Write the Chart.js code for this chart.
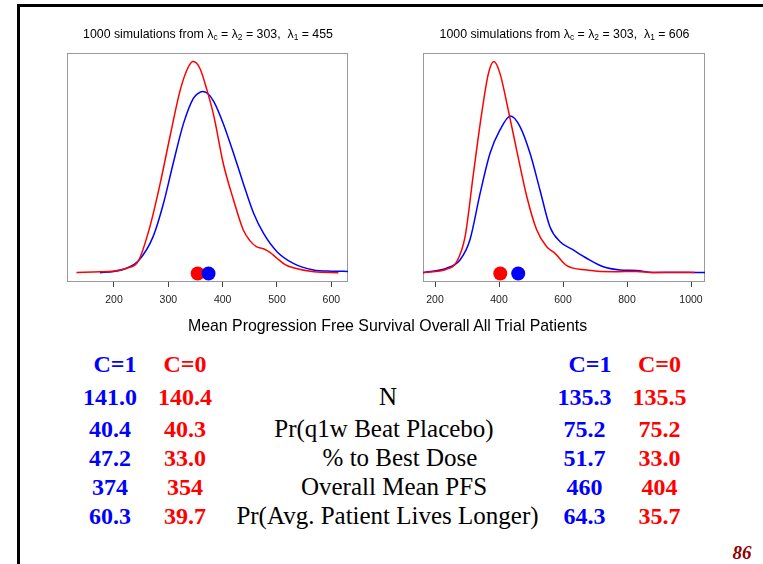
<!DOCTYPE html>
<html><head><meta charset="utf-8">
<script src="https://cdn.jsdelivr.net/npm/chart.js@4"></script>
<style>
html,body{margin:0;padding:0;background:#fff;}
body{width:763px;height:564px;position:relative;overflow:hidden;}
#frame{position:absolute;left:17px;top:4px;width:760px;height:570px;border-top:3px solid #000;border-left:3px solid #000;}
canvas{position:absolute;}
.t{position:absolute;white-space:nowrap;line-height:1;margin:0;padding:0;}
.t sub{font-size:0.68em;vertical-align:-0.25em;line-height:0;}
</style></head><body>
<div id="frame"></div>
<canvas id="c1" width="300" height="300" style="left:57px;top:20px"></canvas>
<canvas id="c2" width="300" height="300" style="left:413px;top:20px"></canvas>
<script>
// ---------- data ----------
const leftTicks = [200, 300, 400, 500, 600];
const rightTicks = [200, 400, 600, 800, 1000];

// left panel: lambda1 = 455 (density, scaled to red peak = 1)
const leftRedX  = [131, 174, 200, 223, 245, 266, 285, 303, 322, 337, 346, 358, 371, 384, 401, 420, 438, 450, 462, 475, 487, 500, 515, 530, 568, 613];
const leftRedY  = [0.005, 0.008, 0.012, 0.025, 0.06, 0.22, 0.425, 0.645, 0.866, 0.975, 1.0, 0.968, 0.866, 0.74, 0.52, 0.347, 0.205, 0.155, 0.127, 0.117, 0.1, 0.072, 0.042, 0.027, 0.008, 0.004];
const leftBlueX = [174, 200, 223, 245, 272, 291, 309, 328, 346, 355, 363, 372, 384, 401, 420, 438, 457, 475, 500, 530, 567, 600, 631];
const leftBlueY = [0.004, 0.01, 0.025, 0.06, 0.174, 0.33, 0.52, 0.708, 0.826, 0.85, 0.858, 0.85, 0.81, 0.708, 0.567, 0.425, 0.284, 0.19, 0.103, 0.048, 0.017, 0.011, 0.01];

// right panel: lambda1 = 606
const rightRedX  = [163, 236, 268, 294, 320, 346, 367, 384, 403, 429, 455, 487, 518, 549, 575, 612, 674, 757, 830, 883, 960, 1012];
const rightRedY  = [0.005, 0.02, 0.056, 0.174, 0.47, 0.756, 0.944, 1.0, 0.944, 0.771, 0.583, 0.362, 0.205, 0.126, 0.095, 0.037, 0.017, 0.008, 0.01, 0.005, 0.006, 0.005];
const rightBlueX = [163, 236, 278, 309, 341, 372, 403, 436, 466, 497, 528, 559, 591, 632, 674, 726, 778, 830, 882, 1044];
const rightBlueY = [0.004, 0.025, 0.064, 0.158, 0.378, 0.567, 0.677, 0.743, 0.692, 0.567, 0.394, 0.221, 0.15, 0.111, 0.072, 0.032, 0.017, 0.014, 0.005, 0.005];

// table
const headers = ['C=1', 'C=0'];
const rowLabels = ['N', 'Pr(q1w Beat Placebo)', '% to Best Dose', 'Overall Mean PFS', 'Pr(Avg. Patient Lives Longer)'];
const leftC1  = ['141.0', '40.4', '47.2', '374', '60.3'];
const leftC0  = ['140.4', '40.3', '33.0', '354', '39.7'];
const rightC1 = ['135.3', '75.2', '51.7', '460', '64.3'];
const rightC0 = ['135.5', '75.2', '33.0', '404', '35.7'];

const leftTitle  = '1000 simulations from \u03bb<sub>c</sub> = \u03bb<sub>2</sub> = 303,&nbsp; \u03bb<sub>1</sub> = 455';
const rightTitle = '1000 simulations from \u03bb<sub>c</sub> = \u03bb<sub>2</sub> = 303,&nbsp; \u03bb<sub>1</sub> = 606';
const xTitle = 'Mean Progression Free Survival Overall All Trial Patients';
const pageNo = '86';

// ---------- charts ----------
const SANS = '"Liberation Sans", Arial, Helvetica, sans-serif';
const SERIF = '"Liberation Serif", "Times New Roman", serif';
const RED = '#ff0000', BLUE = '#0000ff';

const boxPlugin = {
  id: 'box',
  beforeDatasetsDraw(chart) {
    const {ctx, chartArea: a} = chart;
    ctx.save();
    ctx.strokeStyle = '#999';
    ctx.lineWidth = 1;
    const l = Math.round(a.left) + 0.5, t = Math.round(a.top) + 0.5;
    const r = Math.round(a.right) - 0.5, b = Math.round(a.bottom) - 0.5;
    ctx.strokeRect(l, t, r - l, b - t);
    ctx.restore();
  }
};

function pts(xs, ys) { return xs.map((x, i) => ({x: x, y: ys[i]})); }

function panel(id, xMin, xMax, ticks, padR, redX, redY, blueX, blueY, redMean, blueMean) {
  const dot = (v, c) => ({data: [{x: v, y: 0}], showLine: false, pointRadius: 7, pointHoverRadius: 7,
    pointBackgroundColor: c, pointBorderColor: c, pointBorderWidth: 0, borderColor: c, backgroundColor: c});
  const curve = (xs, ys, c) => ({data: pts(xs, ys), borderColor: c, borderWidth: 1.5, pointRadius: 0,
    fill: false, cubicInterpolationMode: 'monotone'});
  new Chart(document.getElementById(id), {
    type: 'line',
    data: {datasets: [dot(blueMean, BLUE), dot(redMean, RED), curve(redX, redY, RED), curve(blueX, blueY, BLUE)]},
    options: {
      responsive: false, animation: false, devicePixelRatio: 1, events: [],
      layout: {padding: {left: 10, right: padR, top: 33, bottom: 0}},
      plugins: {legend: {display: false}, tooltip: {enabled: false}, title: {display: false}},
      scales: {
        x: {
          type: 'linear', min: xMin, max: xMax,
          afterBuildTicks: (s) => { s.ticks = ticks.map(v => ({value: v})); },
          afterFit: (s) => { s.height = 38; },
          grid: {display: true, drawOnChartArea: false, drawTicks: true, tickLength: 5, color: '#444', lineWidth: 1},
          border: {display: false},
          ticks: {autoSkip: false, maxRotation: 0, padding: 7, color: '#222',
            font: {family: SANS, size: 10.5}, callback: (v) => String(v)}
        },
        y: {display: false, min: -0.04, max: 1.04}
      }
    },
    plugins: [boxPlugin]
  });
}

panel('c1', 113.5, 630.7, leftTicks, 9, leftRedX, leftRedY, leftBlueX, leftBlueY, Number(leftC0[3]), Number(leftC1[3]));
panel('c2', 162.5, 1043.75, rightTicks, 8, rightRedX, rightRedY, rightBlueX, rightBlueY, Number(rightC0[3]), Number(rightC1[3]));

// ---------- text ----------
function placeText(html, cx, baseline, css) {
  const d = document.createElement('div');
  d.className = 't';
  Object.assign(d.style, css);
  d.innerHTML = html + '<span style="display:inline-block;width:0;height:0;vertical-align:baseline"></span>';
  document.body.appendChild(d);
  const off = d.lastChild.offsetTop;
  const w = d.getBoundingClientRect().width;
  d.style.top = (baseline - off) + 'px';
  d.style.left = (cx - w / 2) + 'px';
}

const titleCss = {fontFamily: SANS, fontSize: '12.35px', color: '#000'};
placeText(leftTitle, 208, 37.5, titleCss);
placeText(rightTitle, 564.5, 37.5, titleCss);
placeText(xTitle, 387.5, 330.5, {fontFamily: SANS, fontSize: '15.9px', color: '#000'});

const numCss = (c) => ({fontFamily: SERIF, fontSize: '24px', fontWeight: 'bold', color: c});
const headBase = 372;
const rowBase = [405, 436.5, 465.5, 494.5, 523.5];
placeText(headers[0], 115, headBase, numCss(BLUE));
placeText(headers[1], 185, headBase, numCss(RED));
placeText(headers[0], 590, headBase, numCss(BLUE));
placeText(headers[1], 659.5, headBase, numCss(RED));
const labelCx = [388, 384, 400, 394, 387.5];
rowLabels.forEach((lab, i) => {
  placeText(leftC1[i], 110, rowBase[i], numCss(BLUE));
  placeText(leftC0[i], 185, rowBase[i], numCss(RED));
  placeText(rightC1[i], 584.5, rowBase[i], numCss(BLUE));
  placeText(rightC0[i], 659.5, rowBase[i], numCss(RED));
  const d = lab.replace(/&/g, '&amp;').replace(/</g, '&lt;');
  placeText(d, labelCx[i], rowBase[i], {fontFamily: SERIF, fontSize: '25px', color: '#000'});
});

placeText(pageNo, 742, 559, {fontFamily: SERIF, fontSize: '19px', fontWeight: 'bold', fontStyle: 'italic', color: '#8e0000'});
</script>
</body></html>
